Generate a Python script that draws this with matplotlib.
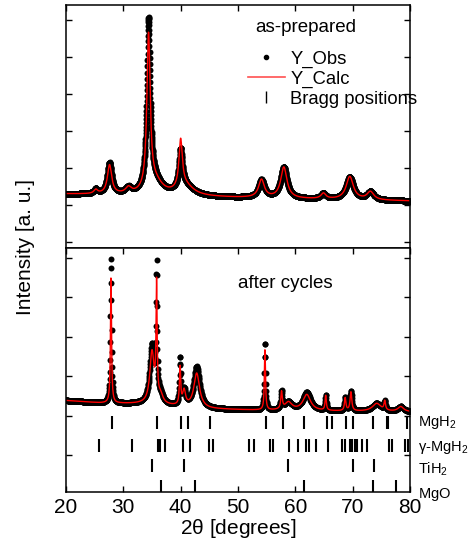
import matplotlib.pyplot as plt
import numpy as np
from matplotlib.lines import Line2D

plt.rcParams['font.family'] = ['Liberation Sans', 'DejaVu Sans']

## DATA (arbitrary intensity units)

# as-prepared: background anchor points and peaks (2theta, height, FWHM)
bgTopPos = [20, 35, 50, 65, 80]
bgTopVal = [540, 522, 502, 486, 470]
topPeakPos = [25.2, 27.6, 30.9, 34.4, 35.6, 40.0, 40.8, 54.1, 58.0, 64.9, 69.5, 73.1]
topCalcHeight = [40, 290, 60, 1550, 120, 480, 100, 180, 310, 55, 230, 80]
topObsHeight = [45, 310, 60, 1700, 120, 380, 100, 175, 310, 55, 225, 80]
topPeakWidth = [0.8, 0.9, 1.2, 0.7, 3.0, 0.7, 3.5, 1.2, 1.3, 1.0, 1.5, 1.4]

# after cycles
bgBotPos = [20, 26, 33, 45, 55, 80]
bgBotVal = [915, 890, 880, 830, 815, 800]
botPeakPos = [27.85, 35.0, 35.8, 36.5, 39.9, 40.6, 42.8, 54.7, 57.6, 58.8, 62.0,
              65.3, 68.7, 69.7, 74.2, 75.6, 78.4]
botCalcHeight = [1260, 520, 1125, 80, 380, 150, 345, 620, 170, 80, 160,
                 150, 130, 190, 80, 90, 50]
botObsHeight = [1450, 580, 1285, 80, 460, 150, 410, 680, 180, 80, 180,
                150, 130, 200, 80, 90, 50]
botPeakWidth = [0.22, 0.9, 0.22, 1.0, 0.25, 0.6, 1.2, 0.22, 0.3, 1.5, 1.6,
                0.25, 0.3, 0.35, 1.8, 0.3, 1.2]

# Bragg positions of each phase
braggMgH2 = [28.08, 35.87, 40.06, 41.28, 45.12, 54.89, 57.91, 61.57, 65.47, 66.34,
             68.84, 70.0, 73.6, 75.93, 76.2, 79.42]
braggGammaMgH2 = [25.81, 31.51, 35.99, 36.34, 37.33, 40.47, 41.63, 44.94, 45.58,
                  51.98, 52.85, 55.64, 56.05, 58.96, 60.52, 61.92, 62.33, 63.61,
                  65.76, 68.08, 68.6, 69.54, 69.95, 70.35, 70.82, 71.57, 72.44,
                  76.4, 76.86, 79.19, 79.6]
braggTiH2 = [34.94, 40.58, 58.78, 70.12, 73.72]
braggMgO = [36.57, 42.5, 61.57, 73.6, 77.56]
phaseNames = [r'$\mathregular{MgH_2}$', r'$\mathregular{\gamma}$-$\mathregular{MgH_2}$',
              r'$\mathregular{TiH_2}$', r'$\mathregular{MgO}$']


def profile(x, bgPos, bgVal, pos, height, width):
    # background plus a Lorentzian for every peak
    y = np.interp(x, bgPos, bgVal)
    for p, h, w in zip(pos, height, width):
        y = y + h / (1 + ((x - p) / (w / 2)) ** 2)
    return y


xTop = np.arange(20, 80.001, 0.02)
xBot = np.arange(20, 80.001, 0.04)
topObs = profile(xTop, bgTopPos, bgTopVal, topPeakPos, topObsHeight, topPeakWidth)
topCalc = profile(xTop, bgTopPos, bgTopVal, topPeakPos, topCalcHeight, topPeakWidth)
botObs = profile(xBot, bgBotPos, bgBotVal, botPeakPos, botObsHeight, botPeakWidth)
botCalc = profile(xBot, bgBotPos, bgBotVal, botPeakPos, botCalcHeight, botPeakWidth)

## PLOT

fig = plt.figure(figsize=(4.72, 5.49), dpi=100)
ax1 = fig.add_axes([0.1398, 0.5483, 0.7288, 0.4426])
ax2 = fig.add_axes([0.1398, 0.1038, 0.7288, 0.4444])

# top panel
ax1.plot(xTop, topObs, 'o', color='black', ms=4.3, mew=0)
ax1.plot(xTop, topCalc, color='red', lw=1.0)
ax1.set_xlim(20, 80)
ax1.set_ylim(0, 2430)
ax1.set_yticks(np.arange(60, 2430, 370))
ax1.set_xticks(range(20, 81, 10))
ax1.tick_params(direction='in', top=True, right=True, bottom=False,
                labelbottom=False, labelleft=False, length=4, width=1)
ax1.text(0.549, 0.909, 'as-prepared', transform=ax1.transAxes, fontsize=13.5, va='center')

handles = [Line2D([], [], ls='none', marker='o', color='black', ms=3),
           Line2D([], [], color='#ff5050', lw=1.2),
           Line2D([], [], ls='none', marker='|', color='black', ms=9, mew=1)]
ax1.legend(handles, ['Y_Obs', 'Y_Calc', 'Bragg positions'], loc='upper left',
           bbox_to_anchor=(0.529, 0.812), frameon=False, fontsize=13.3,
           handlelength=2.0, handletextpad=0.3, labelspacing=0.15,
           borderpad=0, borderaxespad=0)

# bottom panel
ax2.plot(xBot, botObs, 'o', color='black', ms=4.3, mew=0)
ax2.plot(xBot, botCalc, color='red', lw=1.0)

# Bragg tick rows below the pattern
rows = [(braggMgH2, 630, 760, 660), (braggGammaMgH2, 400, 530, 413),
        (braggTiH2, 200, 330, 180), (braggMgO, 0, 120, -60)]
for (pos, lo, hi, labY), name in zip(rows, phaseNames):
    ax2.vlines(pos, lo, hi, color='black', lw=1.5)
    ax2.text(1.023, labY, name, transform=ax2.get_yaxis_transform(),
             fontsize=10.5, va='baseline', clip_on=False)

ax2.set_xlim(20, 80)
ax2.set_ylim(0, 2440)
ax2.set_yticks(np.arange(370, 2440, 395))
ax2.set_xticks(range(20, 81, 10))
ax2.tick_params(direction='in', top=True, right=True, labelleft=False,
                length=4, width=1, labelsize=15, pad=4)
ax2.text(0.501, 0.855, 'after cycles', transform=ax2.transAxes, fontsize=13.5, va='center')
ax2.set_xlabel(r'2$\mathregular{\theta}$ [degrees]', fontsize=15, labelpad=0)

for ax in (ax1, ax2):
    for s in ax.spines.values():
        s.set_linewidth(1.1)

fig.text(0.053, 1 - 247 / 549, 'Intensity [a. u.]', rotation=90,
         fontsize=15, ha='center', va='center')

fig.savefig('out.png', dpi=100)
